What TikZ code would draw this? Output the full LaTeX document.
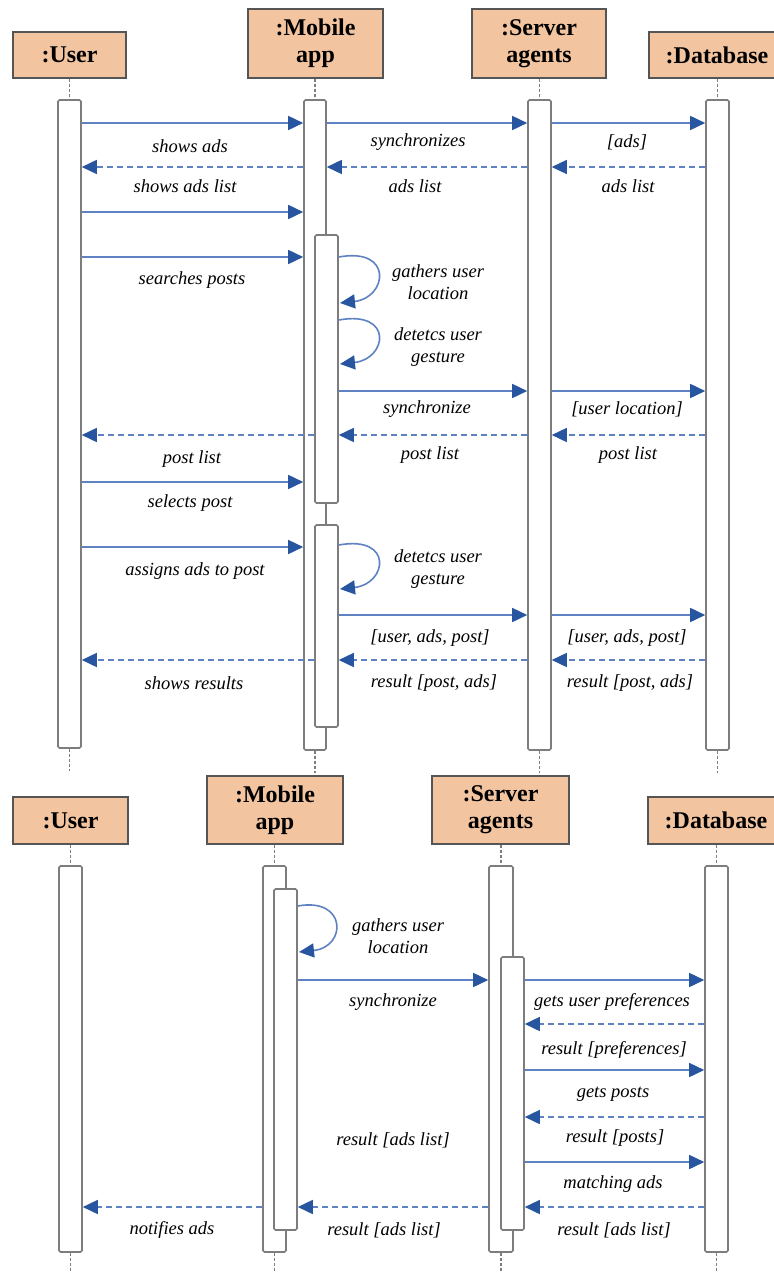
\documentclass[tikz,border=0pt]{standalone}
\usepackage{fontspec}
\setmainfont{Liberation Serif}
\usetikzlibrary{arrows.meta}
\definecolor{boxfill}{RGB}{242,196,160}
\definecolor{boxline}{RGB}{85,85,85}
\definecolor{barline}{RGB}{125,125,125}
\definecolor{msgline}{RGB}{95,130,195}
\definecolor{msghead}{RGB}{40,85,160}
\begin{document}
\begin{tikzpicture}[x=1pt,y=-1pt,
 obj/.style={draw=boxline,line width=1.3pt,fill=boxfill,font=\fontsize{24}{27}\selectfont\bfseries,align=center,inner sep=0pt},
 actbar/.style={draw=barline,line width=1.6pt,fill=white,rounded corners=1.5pt,inner sep=0pt,minimum width=23pt},
 life/.style={draw=barline,line width=1.8pt,dash pattern=on 3pt off 2pt},
 msg/.style={draw=msgline,line width=1.6pt,-{Triangle[length=15pt,width=14pt,color=msghead]}},
 ret/.style={msg,dash pattern=on 6pt off 4pt},
 lbl/.style={font=\fontsize{18.5}{22}\selectfont\itshape,align=center,inner sep=0pt},
]
\useasboundingbox (0,0) rectangle (773,1273);
\fill[white] (0,0) rectangle (773,1273);

% ===== top diagram: headers =====
\node[obj,minimum width=113pt,minimum height=46pt] (ub1) at (69.5,55) {:User};
\node[obj,minimum width=135pt,minimum height=69pt] (mb1) at (315.5,43.5) {:Mobile\\app};
\node[obj,minimum width=134pt,minimum height=69pt] (sb1) at (539,43.5) {:Server\\agents};
\node[obj,minimum width=136pt,minimum height=46pt] (db1) at (717,55) {:Database};

% bars
\node[actbar,minimum height=648pt] (u1) at (69.5,424) {};
\node[actbar,minimum width=22pt,minimum height=650pt] (m1) at (315,425) {};
\node[actbar,minimum height=268pt] (m1a) at (326.5,369) {};
\node[actbar,minimum height=202pt] (m1b) at (326.5,626) {};
\node[actbar,minimum height=650pt] (s1) at (539.5,425) {};
\node[actbar,minimum height=650pt] (d1) at (717.5,425) {};

% lifeline stubs
\draw[life] (ub1.south) -- (u1.north);
\draw[life] (mb1.south -| m1.north) -- (m1.north);
\draw[life] (sb1.south -| s1.north) -- (s1.north);
\draw[life] (db1.south -| d1.north) -- (d1.north);
\foreach \b in {u1,m1,s1,d1}{
  \coordinate (\b end) at ([yshift=-22pt]\b.south);
  \draw[life] (\b.south) -- (\b end);
}

% messages
\draw[msg] (u1.east |- 0,123) -- (m1.west |- 0,123);
\draw[msg] (m1.east |- 0,123) -- (s1.west |- 0,123);
\draw[msg] (s1.east |- 0,123) -- (d1.west |- 0,123);
\node[lbl] (t1) at (190,146) {shows ads};
\node[lbl] (t2) at (418,142) {synchronizes};
\node[lbl] (t3) at (627,142) {[ads]};

\draw[ret] (m1.west |- 0,167) -- (u1.east |- 0,167);
\draw[ret] (s1.west |- 0,167) -- (m1.east |- 0,167);
\draw[ret] (d1.west |- 0,167) -- (s1.east |- 0,167);
\node[lbl] (t4) at (185,186) {shows ads list};
\node[lbl] (t5) at (415,186) {ads list};
\node[lbl] (t6) at (628,186) {ads list};

\draw[msg] (u1.east |- 0,212) -- (m1.west |- 0,212);
\draw[msg] (u1.east |- 0,257) -- (m1.west |- 0,257);
\node[lbl] (t7) at (192,280) {searches posts};

\draw[msg] (m1a.east |- 0,257) .. controls (394,247) and (387,298) .. (340,303);
\node[lbl] (t8) at (438,282) {gathers user\\location};
\draw[msg] (m1a.east |- 0,320) .. controls (394,310) and (387,359) .. (340,364);
\node[lbl] (t9) at (438,347) {detetcs user\\gesture};

\draw[msg] (m1a.east |- 0,391) -- (s1.west |- 0,391);
\draw[msg] (s1.east |- 0,391) -- (d1.west |- 0,391);
\node[lbl] (t10) at (427,409) {synchronize};
\node[lbl] (t11) at (627,409) {[user location]};

\draw[ret] (d1.west |- 0,435) -- (s1.east |- 0,435);
\draw[ret] (s1.west |- 0,435) -- (m1a.east |- 0,435);
\draw[ret] (m1a.west |- 0,435) -- (u1.east |- 0,435);
\node[lbl] (t12) at (430,455) {post list};
\node[lbl] (t13) at (628,455) {post list};
\node[lbl] (t14) at (192,459) {post list};

\draw[msg] (u1.east |- 0,482) -- (m1.west |- 0,482);
\node[lbl] (t15) at (190,503) {selects post};
\draw[msg] (u1.east |- 0,547) -- (m1.west |- 0,547);
\node[lbl] (t16) at (195,571) {assigns ads to post};

\draw[msg] (m1b.east |- 0,545) .. controls (394,535) and (387,584) .. (340,589);
\node[lbl] (t17) at (438,569) {detetcs user\\gesture};

\draw[msg] (m1b.east |- 0,615) -- (s1.west |- 0,615);
\draw[msg] (s1.east |- 0,615) -- (d1.west |- 0,615);
\node[lbl] (t18) at (430,638) {[user, ads, post]};
\node[lbl] (t19) at (627,638) {[user, ads, post]};

\draw[ret] (d1.west |- 0,660) -- (s1.east |- 0,660);
\draw[ret] (s1.west |- 0,660) -- (m1b.east |- 0,660);
\draw[ret] (m1b.west |- 0,660) -- (u1.east |- 0,660);
\node[lbl] (t20) at (194,683) {shows results};
\node[lbl] (t21) at (434,683) {result [post, ads]};
\node[lbl] (t22) at (630,683) {result [post, ads]};

% ===== bottom diagram =====
\node[obj,minimum width=115pt,minimum height=47pt] (ub2) at (70.5,820.5) {:User};
\node[obj,minimum width=136pt,minimum height=68pt] (mb2) at (275,810) {:Mobile\\app};
\node[obj,minimum width=137pt,minimum height=68pt] (sb2) at (500.5,810) {:Server\\agents};
\node[obj,minimum width=136pt,minimum height=47pt] (db2) at (716,820.5) {:Database};

\node[actbar,minimum height=386pt] (u2) at (70.5,1059) {};
\node[actbar,minimum height=386pt] (m2) at (274.5,1059) {};
\node[actbar,minimum height=341pt] (m2a) at (285.5,1059.5) {};
\node[actbar,minimum width=24pt,minimum height=386pt] (s2) at (501,1059) {};
\node[actbar,minimum height=273pt] (s2a) at (512.5,1093.5) {};
\node[actbar,minimum height=386pt] (d2) at (716.5,1059) {};

\draw[life] (ub2.south -| u2.north) -- (u2.north);
\draw[life] (mb2.south -| m2.north) -- (m2.north);
\draw[life] (sb2.south -| s2.north) -- (s2.north);
\draw[life] (db2.south -| d2.north) -- (d2.north);
\foreach \b in {u2,m2,s2,d2}{
  \coordinate (\b end) at ([yshift=-22pt]\b.south);
  \draw[life] (\b.south) -- (\b end);
}

\draw[msg] (m2a.east |- 0,906) .. controls (347,897) and (347,947) .. (299,952);
\node[lbl] (b1) at (398,936) {gathers user\\location};

\draw[msg] (m2a.east |- 0,980) -- (s2.west |- 0,980);
\draw[msg] (s2a.east |- 0,980) -- (d2.west |- 0,980);
\node[lbl] (b2) at (393,1002) {synchronize};
\node[lbl] (b3) at (612,1002) {gets user preferences};

\draw[ret] (d2.west |- 0,1024) -- (s2a.east |- 0,1024);
\node[lbl] (b4) at (614,1050) {result [preferences]};
\draw[msg] (s2a.east |- 0,1070) -- (d2.west |- 0,1070);
\node[lbl] (b5) at (613,1094) {gets posts};
\draw[ret] (d2.west |- 0,1117) -- (s2a.east |- 0,1117);
\node[lbl] (b6) at (615,1138) {result [posts]};
\node[lbl] (b7) at (393,1140) {result [ads list]};
\draw[msg] (s2a.east |- 0,1162) -- (d2.west |- 0,1162);
\node[lbl] (b8) at (613,1184) {matching ads};

\draw[ret] (d2.west |- 0,1207) -- (s2a.east |- 0,1207);
\draw[ret] (s2.west |- 0,1207) -- (m2a.east |- 0,1207);
\draw[ret] (m2.west |- 0,1207) -- (u2.east |- 0,1207);
\node[lbl] (b9) at (614,1230) {result [ads list]};
\node[lbl] (b10) at (384,1230) {result [ads list]};
\node[lbl] (b11) at (172,1230) {notifies ads};
\end{tikzpicture}
\end{document}
